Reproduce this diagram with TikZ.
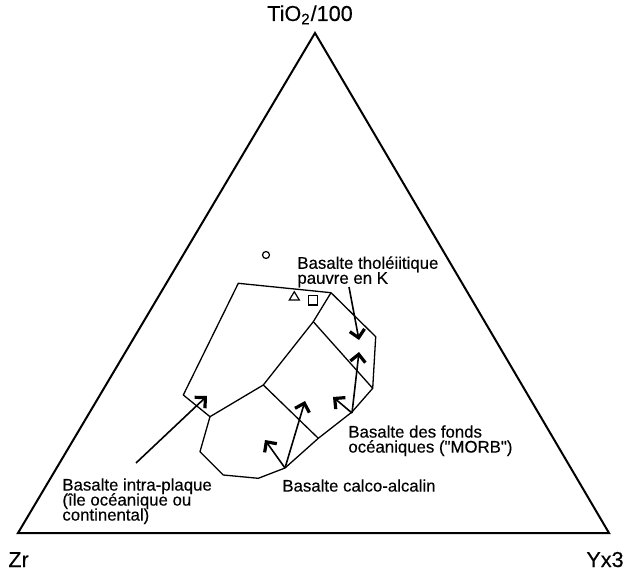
\documentclass[tikz,border=0pt]{standalone}
\usepackage{fontspec}
\setmainfont{Liberation Sans}
\newfontfamily\heavyfont[FakeBold=0.35]{Liberation Sans}
\usetikzlibrary{arrows.meta}
\setlength{\lineskiplimit}{-20pt}
\begin{document}
\begin{tikzpicture}[x=0.5pt,y=-0.5pt,
  frame/.style={line width=1pt,line join=miter},
  field/.style={line width=0.65pt,line join=round},
  ptr/.style={line width=0.8pt,-{Straight Barb[length=3.8pt,width=7.5pt,line width=1.6pt]}},
  lbl/.style={font=\heavyfont\fontsize{8.4}{7.5}\selectfont,align=left,anchor=north west,inner sep=0pt},
  corner/.style={font=\heavyfont\fontsize{10.8}{13}\selectfont,inner sep=0pt},
  sample/.style={line width=0.6pt}]
\useasboundingbox (0,0) rectangle (626,571);
% triangle
\coordinate (Z) at (18,533);
\coordinate (Y) at (609,533);
\coordinate (T) at (315,33);
\draw[frame] (Z) -- (T) -- (Y) -- cycle;
\node[corner,anchor=base] (lt) at (310,21) {TiO\textsubscript{2}/100};
\node[corner,anchor=base west] (lz) at (8,567) {Zr};
\node[corner,anchor=base west] (ly) at (586,567) {Yx3};
% fields
\coordinate (A) at (238.3,283.3);
\coordinate (B) at (331,292.7);
\coordinate (C) at (375.7,336.7);
\coordinate (D) at (372.7,388.3);
\coordinate (M) at (352,412);
\coordinate (E) at (318.3,438.3);
\coordinate (N) at (285,468);
\coordinate (F) at (258.3,478.3);
\coordinate (G) at (223.3,475);
\coordinate (H) at (200,451.7);
\coordinate (I) at (210,416.7);
\coordinate (J) at (183.3,395);
\coordinate (K) at (313.3,321.7);
\coordinate (L) at (263.3,385);
\draw[field] (A) -- (B) -- (C) -- (D) -- (M) -- (E) -- (N) -- (F) -- (G) -- (H) -- (I) -- (J) -- cycle;
\draw[field] (B) -- (K) -- (L) -- (I);
\draw[field] (K) -- (D);
\draw[field] (L) -- (E);
% samples
\draw[sample] (266,255) circle[radius=1.75pt];
\draw[sample] (289.3,300) -- (299.3,300) -- (294.3,291.7) -- cycle;
\draw[sample] (308.3,295.7) rectangle (317.7,305);
% labels
\node[lbl] (tho) at (297,256) {Basalte tholéiitique\\pauvre en K};
\node[lbl] (morb) at (348,425) {Basalte des fonds\\océaniques (\symbol{34}MORB\symbol{34})};
\node[lbl] (calco) at (282,479) {Basalte calco-alcalin};
\node[lbl] (intra) at (62,478) {Basalte intra-plaque\\(île océanique ou\\continental)};
% arrows
\coordinate (thoT) at (349,287);
\coordinate (thoH) at (359,340);
\coordinate (morbT) at (352,413);
\coordinate (morbH1) at (359,352);
\coordinate (morbH2) at (333,397);
\coordinate (calcoT) at (285,468);
\coordinate (calcoH1) at (305,401);
\coordinate (calcoH2) at (265,440);
\coordinate (intraT) at (136,463);
\coordinate (intraH) at (207,396);
\draw[ptr] (thoT) -- (thoH);
\draw[ptr] (morbT) -- (morbH1);
\draw[ptr] (morbT) -- (morbH2);
\draw[ptr] (calcoT) -- (calcoH1);
\draw[ptr] (calcoT) -- (calcoH2);
\draw[ptr] (intraT) -- (intraH);
\end{tikzpicture}
\end{document}
